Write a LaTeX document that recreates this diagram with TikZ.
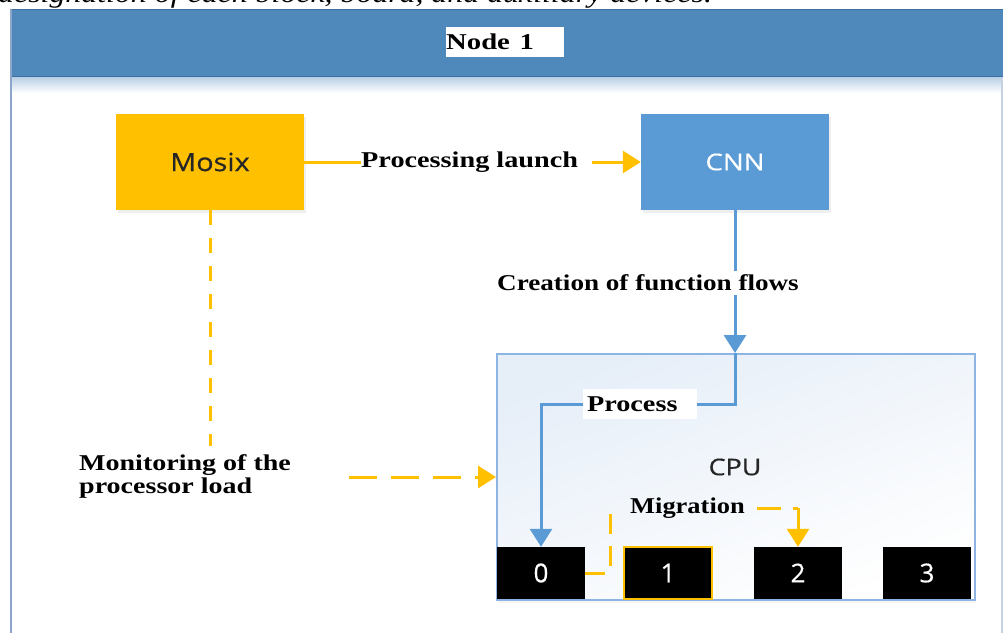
\documentclass[tikz,border=0pt]{standalone}
\usepackage{fontspec}
\setmainfont{Liberation Serif}
\newfontfamily\uisans[FakeBold=0.5]{Open Sans}
\usetikzlibrary{arrows.meta,shadows}
\definecolor{hdr}{RGB}{79,136,187}
\definecolor{hdrdark}{RGB}{60,110,160}
\definecolor{frameb}{RGB}{140,165,200}
\definecolor{mosixc}{RGB}{255,192,0}
\definecolor{cnnc}{RGB}{91,155,213}
\definecolor{flowb}{RGB}{91,155,213}
\definecolor{cpub}{RGB}{141,180,226}
\definecolor{ylw}{RGB}{255,192,0}
\definecolor{cpufill}{RGB}{230,238,248}
\newcommand{\hs}[1]{\scalebox{1.25}[1]{#1}}
\tikzset{
  lbl/.style={font=\fontsize{22.6}{23}\selectfont\bfseries, inner sep=0pt, text=black},
  bigbox/.style={minimum width=188pt, minimum height=96pt, inner sep=0pt,
    drop shadow={opacity=0.12, shadow xshift=2pt, shadow yshift=-3pt}},
  core/.style={fill=black, minimum width=88pt, minimum height=52pt, inner sep=0pt,
    text=white, font=\uisans\fontsize{26}{28}\selectfont},
  yline/.style={draw=ylw, line width=3pt},
  bline/.style={draw=flowb, line width=3pt},
  tip/.style={-{Triangle[length=18pt,width=22pt]}},
}
\begin{document}
\begin{tikzpicture}[x=1pt,y=-1pt]
\useasboundingbox (0,0) rectangle (1003,632);
\fill[white] (0,0) rectangle (1003,632);
% caption line cut off at the top
\node[anchor=base west, inner sep=0pt] (cap) at (-2,2)
  {\scalebox{1.18}[1]{\fontsize{27}{30}\selectfont\itshape designation of each block, board, and auxiliary devices.}};
% frame
\shade[top color=hdr!40, bottom color=white] (12,77) rectangle (1001,93);
\fill[hdr] (10,9) rectangle (1003,77);
\draw[hdrdark, line width=1pt] (10,9.5) -- (1003,9.5);
\draw[hdrdark, line width=1pt] (10,76.5) -- (1003,76.5);
\draw[frameb, line width=2pt] (11,9) -- (11,640);
\draw[frameb!50, line width=1.5pt] (1002,77) -- (1002,640);
\node[fill=white, anchor=north west, minimum width=118pt, minimum height=30pt, inner sep=0pt,
  text width=118pt, align=left, font=\fontsize{22.6}{24}\selectfont\bfseries] (n1) at (446,27)
  {\scalebox{1.27}[1]{Node 1}};
% main boxes
\node[bigbox, fill=mosixc, font=\uisans\fontsize{25}{27}\selectfont, text=black!85] (mosix) at (210,162) {\scalebox{1.15}[1]{Mosix}};
\node[bigbox, fill=cnnc, font=\uisans\fontsize{23}{25}\selectfont, text=white] (cnn) at (735,162) {\scalebox{1.2}[1]{CNN}};
% CPU box
\node[draw=cpub, line width=2pt, top color=cpufill, bottom color=white, shading angle=20,
  minimum width=478pt, minimum height=246pt, inner sep=0pt,
  drop shadow={opacity=0.08, shadow xshift=1pt, shadow yshift=-3pt}] (cpu) at (736,477) {};
\node[font=\uisans\fontsize{23}{25}\selectfont, text=black!85] (cpulbl) at (735,467) {\scalebox{1.17}[1]{CPU}};
% cores
\node[core] (b0) at (541,573) {0};
\node[core, draw=ylw, line width=1.2pt] (b1) at (668,573) {1};
\node[core] (b2) at (798,573) {2};
\node[core] (b3) at (927,573) {3};
% labels
\node[lbl, anchor=west] (pl) at (361,162) {\hs{Processing launch}};
\node[lbl, inner sep=4pt] (cf) at (648,283) {\scalebox{1.2}[1]{Creation of function flows}};
\node[lbl, fill=white, minimum width=114pt, minimum height=30pt, text width=106pt, align=left, inner sep=0pt] (pr) at (640,404) {\hs{Process}};
\node[lbl, anchor=west] (mig) at (630,508) {\scalebox{1.17}[1]{Migration}};
\node[lbl, anchor=west, align=left] (mon) at (79,476) {\scalebox{1.24}[1]{Monitoring of the}\\\scalebox{1.24}[1]{processor load}};
% connectors
\coordinate (plr) at ([xshift=14pt]pl.east);
\draw[yline] (mosix.east) -- (pl.west);
\draw[yline, tip] (plr) -- (cnn.west);
\coordinate (cftop) at (cnn.south |- cf.north);
\coordinate (cfbot) at (cnn.south |- cf.south);
\coordinate (topc) at (cnn.south |- cpu.north);
\draw[bline] (cnn.south) -- (cftop);
\draw[bline, tip] (cfbot) -- (topc);
\draw[bline] (topc) |- (pr.east);
\draw[bline, tip] (pr.west) -| (b0.north);
% monitoring
\coordinate (mv) at (mosix.south |- 0,446);
\draw[yline, dash pattern=on 15pt off 13pt] (mosix.south) -- (mv);
\coordinate (mh) at (349,477);
\draw[yline, tip, dash pattern=on 28pt off 14pt] (mh) -- (cpu.west |- mh);
% migration
\coordinate (mg1) at ([xshift=25pt]b0.east);
\draw[yline, dash pattern=on 20pt off 12pt] (b0.east) -- (mg1) -- (mg1 |- mig.west);
\coordinate (mg2) at ([xshift=12pt]mig.east);
\draw[yline, dash pattern=on 24pt off 12pt] (mg2) -- (b2.north |- mig.east);
\draw[yline, tip] (b2.north |- mig.east) -- (b2.north);
\end{tikzpicture}
\end{document}
